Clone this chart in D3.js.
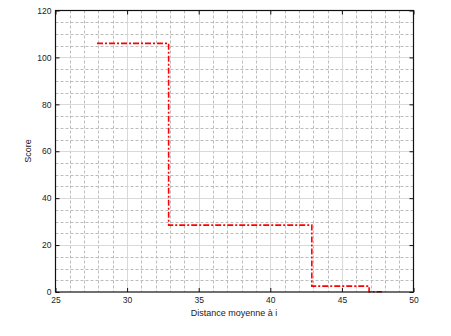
<!DOCTYPE html>
<html><head><meta charset="utf-8">
<script src="https://cdn.jsdelivr.net/npm/d3@7"></script>
<style>body{margin:0;background:#fff}svg{display:block}text{font-family:"Liberation Sans",Arial,sans-serif;fill:#222}</style>
</head><body><svg id="c" width="451" height="336"></svg>
<script>
const xTicks = [25, 30, 35, 40, 45, 50];
const yTicks = [0, 20, 40, 60, 80, 100, 120];
const stepX = [27.9, 32.9, 42.9, 46.9, 47.8];
const stepY = [106, 28.5, 2.5, 0.1, 0.1];
const xLabel = "Distance moyenne à i";
const yLabel = "Score";

const svg = d3.select("#c");
const L = 55.5, R = 413.5, T = 10.5, B = 292;
const x = d3.scaleLinear().domain([25, 50]).range([L, R]);
const y = d3.scaleLinear().domain([0, 120]).range([B, T]);
const g = svg.append("g");

// minor grid
const xMinor = d3.range(25, 50.01, 1).filter(v => v % 5 !== 0);
const yMinor = d3.range(0, 120.01, 5).filter(v => v % 20 !== 0);
g.selectAll(".mx").data(xMinor).join("line")
  .attr("x1", d => Math.round(x(d)) + 0.5).attr("x2", d => Math.round(x(d)) + 0.5)
  .attr("y1", T).attr("y2", B).attr("stroke", "#bdbdbd").attr("stroke-dasharray", "3,2");
g.selectAll(".my").data(yMinor).join("line")
  .attr("y1", d => Math.round(y(d)) + 0.5).attr("y2", d => Math.round(y(d)) + 0.5)
  .attr("x1", L).attr("x2", R).attr("stroke", "#bdbdbd").attr("stroke-dasharray", "3,2");
// major grid
g.selectAll(".Mx").data(xTicks.slice(1, -1)).join("line")
  .attr("x1", d => Math.round(x(d)) + 0.5).attr("x2", d => Math.round(x(d)) + 0.5)
  .attr("y1", T).attr("y2", B).attr("stroke", "#d9d9d9");
g.selectAll(".My").data(yTicks.slice(1, -1)).join("line")
  .attr("y1", d => Math.round(y(d)) + 0.5).attr("y2", d => Math.round(y(d)) + 0.5)
  .attr("x1", L).attr("x2", R).attr("stroke", "#d9d9d9");

// data
const pts = stepX.map((v, i) => [v, stepY[i]]);
g.append("path").datum(pts)
  .attr("d", d3.line().x(d => x(d[0])).y(d => y(d[1])).curve(d3.curveStepAfter))
  .attr("fill", "none").attr("stroke", "#ff0000").attr("stroke-width", 1.6)
  .attr("stroke-dasharray", "6,2,2,2");

// axes with inward ticks
const fmt = d3.format("d");
const xb = svg.append("g").attr("transform", `translate(0,${B})`)
  .call(d3.axisBottom(x).tickValues(xTicks).tickSizeInner(-4).tickSizeOuter(0).tickPadding(5).tickFormat(fmt));
const xt = svg.append("g").attr("transform", `translate(0,${T})`)
  .call(d3.axisTop(x).tickValues(xTicks).tickSizeInner(-4).tickSizeOuter(0).tickFormat(""));
const yl = svg.append("g").attr("transform", `translate(${L},0)`)
  .call(d3.axisLeft(y).tickValues(yTicks).tickSizeInner(-4).tickSizeOuter(0).tickPadding(4).tickFormat(fmt));
const yr = svg.append("g").attr("transform", `translate(${R},0)`)
  .call(d3.axisRight(y).tickValues(yTicks).tickSizeInner(-4).tickSizeOuter(0).tickFormat(""));
[xb, xt, yl, yr].forEach(a => {
  a.select(".domain").remove();
  a.selectAll(".tick line").attr("stroke", "#111");
  a.selectAll("text").attr("font-size", 8.5).style("fill", "#222")
   .attr("font-family", "'Liberation Sans',Arial,sans-serif");
});
// frame
svg.append("rect").attr("x", L).attr("y", T).attr("width", R - L).attr("height", B - T)
  .attr("fill", "none").attr("stroke", "#111").attr("stroke-width", 1.2);

svg.append("text").attr("x", 234).attr("y", 316).attr("text-anchor", "middle")
  .attr("font-size", 9).text(xLabel);
svg.append("text").attr("transform", "translate(31,151) rotate(-90)").attr("text-anchor", "middle")
  .attr("font-size", 9).text(yLabel);
</script></body></html>
